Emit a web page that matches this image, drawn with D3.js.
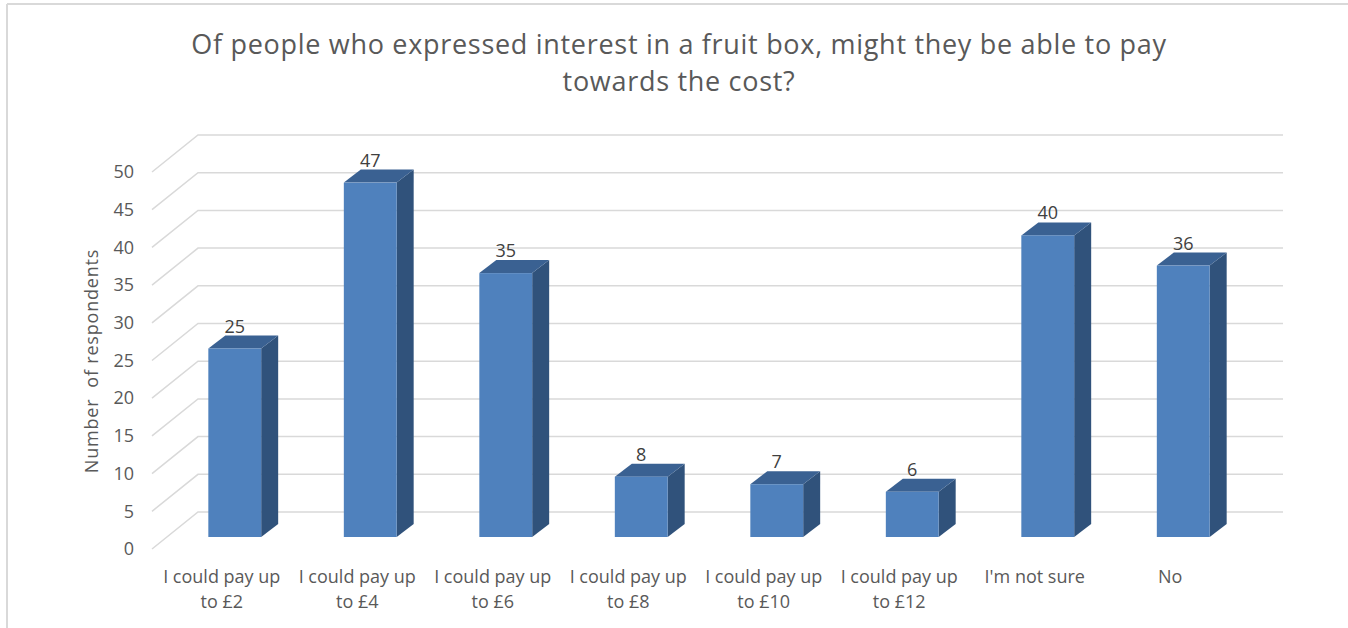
<!DOCTYPE html>
<html>
<head>
  <meta charset="utf-8">
  <script src="https://d3js.org/d3.v7.min.js"></script>
  <style>
    body { margin: 0; background: #fff; }
    text { font-family: "Open Sans", sans-serif; }
  </style>
</head>
<body>
  <div id="chart"></div>

  <script>
    // data
    var categories = [
      ["I could pay up", "to \u00a32"],
      ["I could pay up", "to \u00a34"],
      ["I could pay up", "to \u00a36"],
      ["I could pay up", "to \u00a38"],
      ["I could pay up", "to \u00a310"],
      ["I could pay up", "to \u00a312"],
      ["I'm not sure"],
      ["No"]
    ];
    var values = [25, 47, 35, 8, 7, 6, 40, 36];
    var yTicks = [0, 5, 10, 15, 20, 25, 30, 35, 40, 45, 50];
    var titleLines = ["Of people who expressed interest in a fruit box, might they be able to pay", "towards the cost?"];
    var yTitle = "Number  of respondents";

    var W = 1348, H = 628;
    var depth = { dx: 17, dy: -13 };   // bar depth
    var wallShift = { front: 12, back: -25 }; // offsets from bar base plane
    var xLeftFront = 152, xLeftBack = 198, xRightBack = 1283;

    var svg = d3.select("#chart").append("svg")
      .attr("width", W)
      .attr("height", H);

    // frame (top + left only)
    svg.append("line").attr("x1", 7).attr("x2", W).attr("y1", 4).attr("y2", 4)
      .attr("stroke", "#d9d9d9").attr("stroke-width", 2);
    svg.append("line").attr("x1", 7).attr("x2", 7).attr("y1", 4).attr("y2", H)
      .attr("stroke", "#d9d9d9").attr("stroke-width", 2);

    var x = d3.scaleBand()
      .domain(d3.range(values.length))
      .range([167, 1251])
      .paddingInner(0.61)
      .paddingOuter(0.305);

    var y = d3.scaleLinear()
      .domain([0, 50])
      .range([537, 160]);

    // gridlines: oblique side wall + back wall
    var grid = svg.append("g");
    yTicks.forEach(function(t) {
      grid.append("polyline")
        .attr("points", [
          [xLeftFront, y(t) + wallShift.front],
          [xLeftBack, y(t) + wallShift.back],
          [xRightBack, y(t) + wallShift.back]
        ].join(" "))
        .attr("fill", "none")
        .attr("stroke", "#d9d9d9")
        .attr("stroke-width", 1.5);
    });

    // y axis labels
    var yFront = y.copy().range([y(0) + wallShift.front, y(50) + wallShift.front]);
    var axis = svg.append("g")
      .attr("transform", "translate(134,0)")
      .call(d3.axisLeft(yFront).tickValues(yTicks).tickSize(0).tickPadding(0));
    axis.select(".domain").remove();
    axis.selectAll("text")
      .style("font-family", "'Open Sans', sans-serif")
      .style("font-size", "18px")
      .attr("fill", "#595959");

    // bars
    var bars = svg.append("g").selectAll("g")
      .data(values)
      .enter().append("g");

    bars.append("polygon") // side
      .attr("points", function(d, i) {
        var x1 = x(i) + x.bandwidth();
        return [[x1, y(d)], [x1 + depth.dx, y(d) + depth.dy],
                [x1 + depth.dx, y(0) + depth.dy], [x1, y(0)]].join(" ");
      })
      .attr("fill", "#30527b");

    bars.append("polygon") // top
      .attr("points", function(d, i) {
        var x0 = x(i), x1 = x(i) + x.bandwidth();
        return [[x0, y(d)], [x0 + depth.dx, y(d) + depth.dy],
                [x1 + depth.dx, y(d) + depth.dy], [x1, y(d)]].join(" ");
      })
      .attr("fill", "#3a6192");

    bars.append("rect") // front
      .attr("x", function(d, i) { return x(i); })
      .attr("y", function(d) { return y(d); })
      .attr("width", x.bandwidth())
      .attr("height", function(d) { return y(0) - y(d); })
      .attr("fill", "#4f81bd");

    // data labels
    bars.append("text")
      .attr("x", function(d, i) { return x(i) + x.bandwidth() / 2; })
      .attr("y", function(d) { return y(d) + depth.dy - 3; })
      .attr("text-anchor", "middle")
      .style("font-size", "18px")
      .attr("fill", "#404040")
      .text(function(d) { return d; });

    // category labels
    var cats = svg.append("g").selectAll("text")
      .data(categories)
      .enter().append("text")
      .attr("x", function(d, i) { return x(i) + x.bandwidth() / 2 - 13; })
      .attr("y", 583)
      .attr("text-anchor", "middle")
      .style("font-size", "18px")
      .attr("fill", "#595959");
    cats.selectAll("tspan")
      .data(function(d) { return d; })
      .enter().append("tspan")
      .attr("x", function() { return d3.select(this.parentNode).attr("x"); })
      .attr("dy", function(d, j) { return j === 0 ? 0 : 25; })
      .text(function(d) { return d; });

    // y axis title
    svg.append("text")
      .attr("transform", "translate(98,361) rotate(-90)")
      .attr("text-anchor", "middle")
      .style("font-size", "18px")
      .style("letter-spacing", "0.8px")
      .style("white-space", "pre")
      .attr("fill", "#595959")
      .text(yTitle);

    // title
    svg.append("g").selectAll("text")
      .data(titleLines)
      .enter().append("text")
      .attr("x", 679)
      .attr("y", function(d, i) { return 54 + i * 37; })
      .attr("text-anchor", "middle")
      .style("font-size", "27px")
      .style("letter-spacing", "0.7px")
      .attr("fill", "#595959")
      .text(function(d) { return d; });
  </script>
</body>
</html>
